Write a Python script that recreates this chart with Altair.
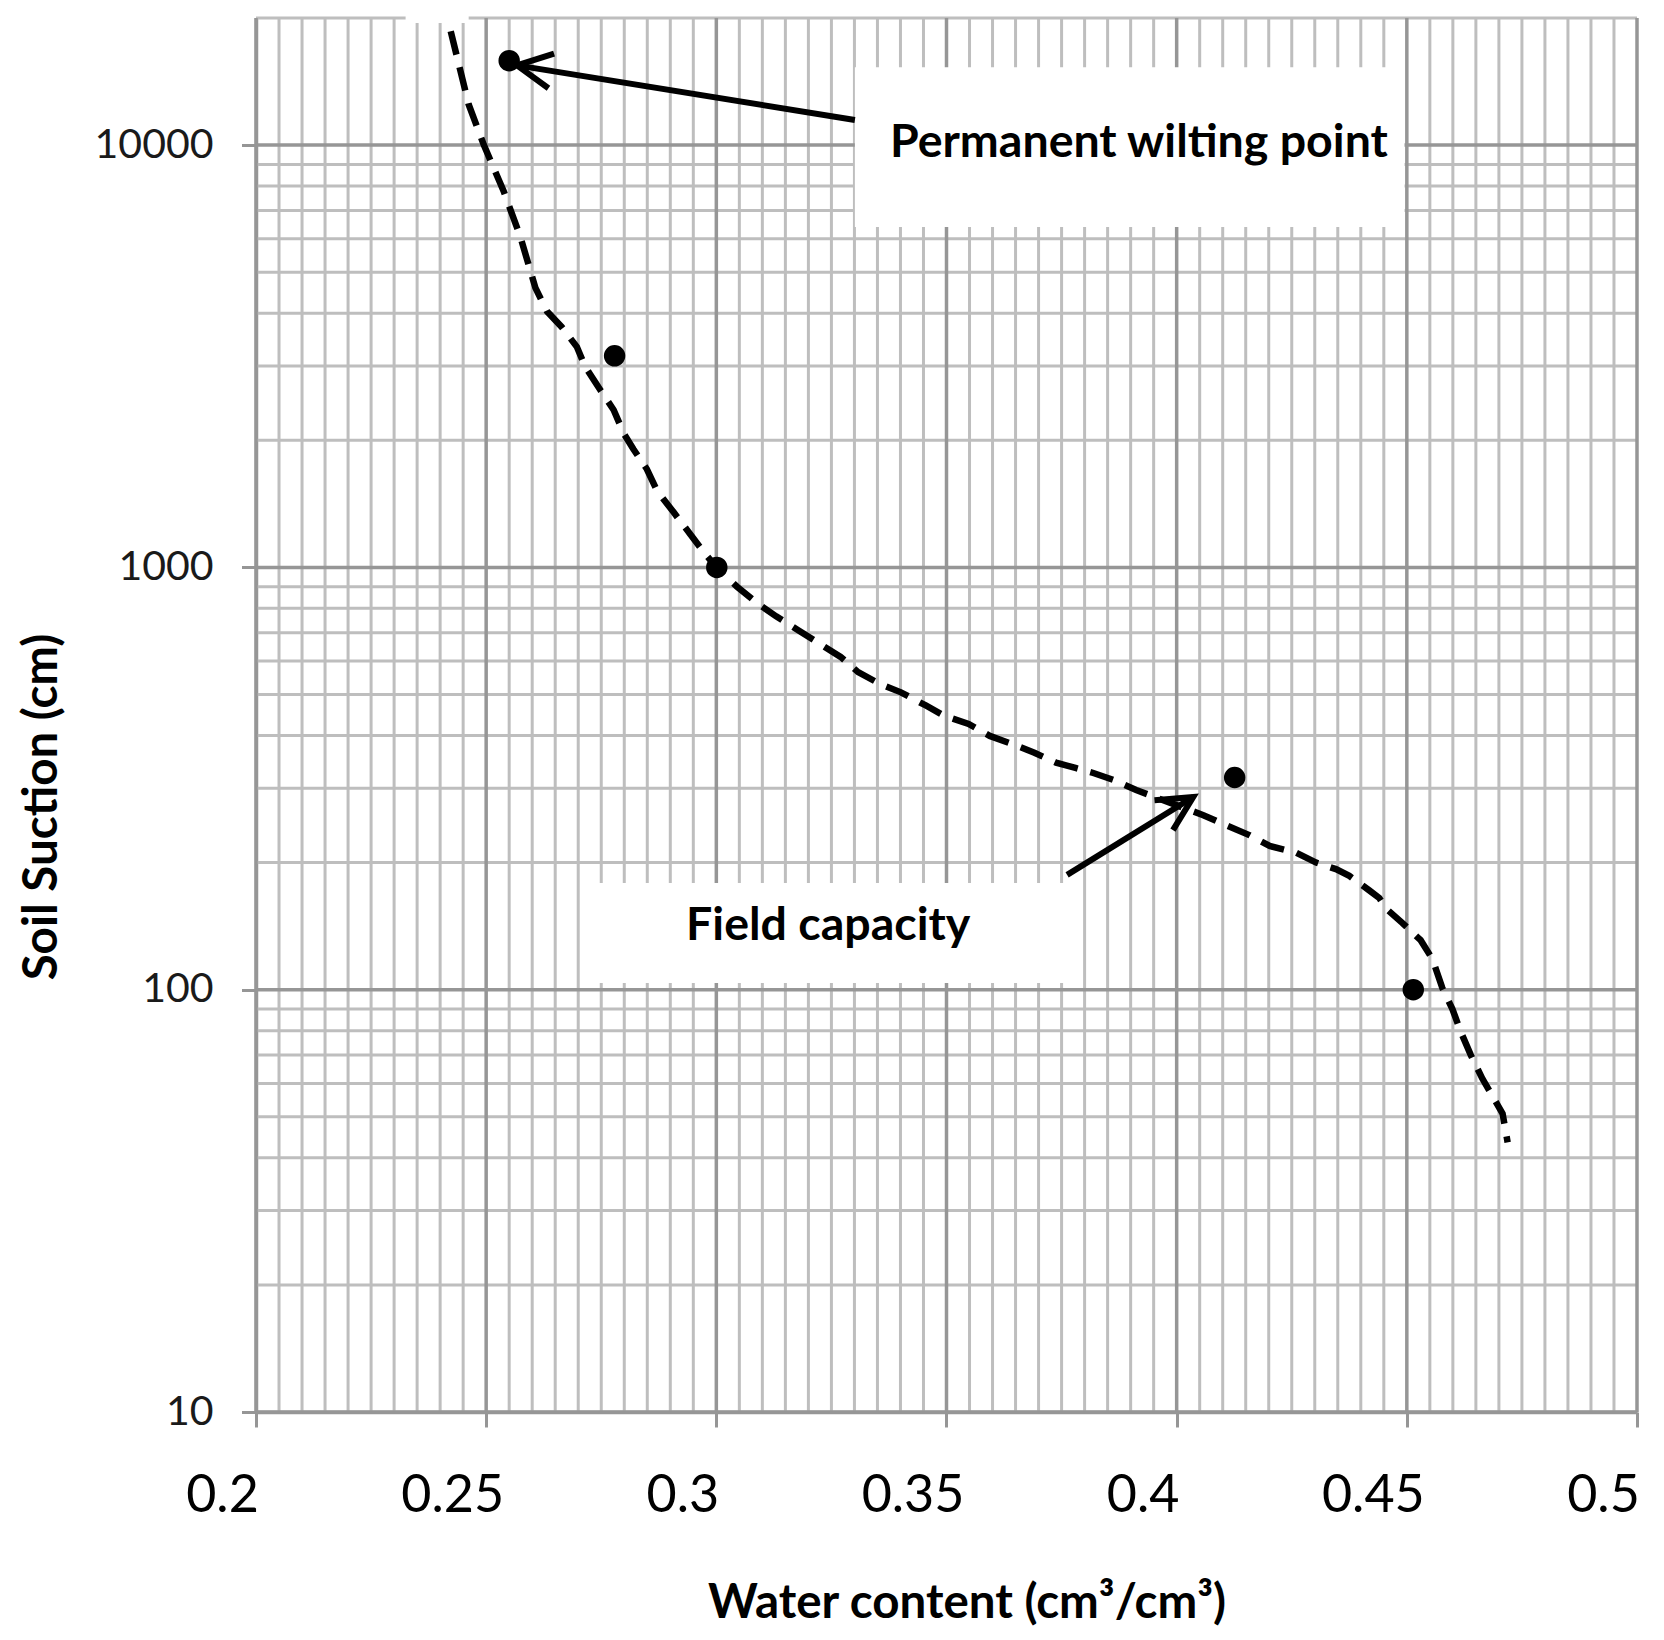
import math
import altair as alt
import pandas as pd

# ---------------- data ----------------
# measured points (water content, soil suction)
theta_pts = [0.2550, 0.2779, 0.3001, 0.4126, 0.4514]
suction_pts = [15850, 3170, 1000, 318, 100]

# fitted (dashed) retention curve, traced
curve_theta = [0.2423, 0.2462, 0.2495, 0.2538, 0.2574, 0.2607, 0.2632, 0.2664, 0.2697,
               0.2715, 0.2748, 0.2777, 0.2799, 0.2820, 0.2849, 0.2871, 0.2907, 0.2943,
               0.2972, 0.3000, 0.3045, 0.3088, 0.3130, 0.3177, 0.3223, 0.3270, 0.3308,
               0.3355, 0.3401, 0.3455, 0.3494, 0.3548, 0.3594, 0.3645, 0.3691, 0.3738,
               0.3780, 0.3819, 0.3862, 0.3912, 0.4058, 0.4108, 0.4159, 0.4202, 0.4260,
               0.4303, 0.4346, 0.4375, 0.4418, 0.4440, 0.4454, 0.4490, 0.4530, 0.4556,
               0.4577, 0.4599, 0.4617, 0.4639, 0.4664, 0.4686, 0.4708, 0.4719]
curve_suction = [18600, 12480, 10000, 7780, 6080, 4590, 4040, 3710, 3330,
                 2990, 2630, 2360, 2075, 1905, 1710, 1520, 1352, 1200,
                 1090, 1000, 900, 824, 766, 711, 661, 614, 565,
                 530, 506, 471, 446, 426, 399, 381, 364, 345,
                 335, 326, 314, 297, 259, 245, 232, 219, 211,
                 200, 193, 186, 172, 165, 156, 144, 131, 118,
                 101, 90, 79.6, 70, 61.6, 56, 50.9, 43.5]

# axis ticks / grid
x_major = [0.2, 0.25, 0.3, 0.35, 0.4, 0.45, 0.5]
y_major = [10, 100, 1000, 10000]
x_minor = [round(0.2 + 0.005 * i, 3) for i in range(61) if i % 10 != 0]
y_minor = [k * 10 ** d for d in range(1, 5) for k in range(2, 10) if k * 10 ** d <= 20000]

# annotations
ann_text = ["Permanent wilting point", "Field capacity"]
ann_tx = [0.3918, 0.3243]
ann_ty = [9374, 131]
box_x1 = [0.3301, 0.2705, 0.2325]
box_x2 = [0.4495, 0.3765, 0.2462]
box_y1 = [6400, 103.7, 19470]
box_y2 = [15300, 178.9, 21000]
arrow_tail_x = [0.3301, 0.3762]
arrow_tail_y = [11470, 187]
arrow_tip_x = [0.2567, 0.4036]
arrow_tip_y = [15450, 286]

# ---------------- layout ----------------
W, H = 1381, 1394
XD = [0.2, 0.5]
YD = [10, 20000]
FONT = "Lato"
MINOR = "#bebebe"
MAJOR = "#969696"


def px(x):
    return (x - XD[0]) / (XD[1] - XD[0]) * W


def py(y):
    return (math.log10(YD[1]) - math.log10(y)) / (math.log10(YD[1]) - math.log10(YD[0])) * H


angles = [math.degrees(math.atan2(py(ty) - py(sy), px(tx) - px(sx))) % 360
          for sx, sy, tx, ty in zip(arrow_tail_x, arrow_tail_y, arrow_tip_x, arrow_tip_y)]

xs = alt.Scale(domain=XD, nice=False, zero=False)
ys = alt.Scale(type="log", domain=YD, nice=False)

xaxis = alt.Axis(values=x_major, format=".2~f", grid=False,
                 domainColor=MAJOR, domainWidth=3.5, tickColor=MAJOR, tickWidth=3, tickSize=15,
                 labelFont=FONT, labelFontSize=52, labelColor="black", labelPadding=43,
                 labelOffset=-34, labelAlign="center", labelFlush=False, labelOverlap=False,
                 title="Water content (cm³/cm³)", titleFont=FONT, titleFontSize=47.5,
                 titleFontWeight="bold", titleColor="black", titleX=710.5, titleY=205,
                 titleBaseline="alphabetic", titleAlign="center")
yaxis = alt.Axis(values=y_major, format="d", grid=False,
                 domainColor=MAJOR, domainWidth=3.5, tickColor=MAJOR, tickWidth=3, tickSize=14.5,
                 labelFont=FONT, labelFontSize=41, labelColor="#1a1a1a", labelPadding=28.5,
                 labelOverlap=False, labelFlush=False,
                 title="Soil Suction (cm)", titleFont=FONT, titleFontSize=47.5,
                 titleFontWeight="bold", titleColor="black", titleAngle=270,
                 titleX=-200, titleY=788.5, titleBaseline="alphabetic", titleAlign="center")


def X(f):
    return alt.X(f, type="quantitative", scale=xs, axis=xaxis)


def Y(f):
    return alt.Y(f, type="quantitative", scale=ys, axis=yaxis)


xminor_df = pd.DataFrame({"x": x_minor})
yminor_df = pd.DataFrame({"y": y_minor})
xmajor_df = pd.DataFrame({"x": x_major})
ymajor_df = pd.DataFrame({"y": y_major})
curve_df = pd.DataFrame({"x": curve_theta, "y": curve_suction, "i": range(len(curve_theta))})
pts_df = pd.DataFrame({"x": theta_pts, "y": suction_pts})
box_df = pd.DataFrame({"x": box_x1, "x2": box_x2, "y": box_y1, "y2": box_y2})
arrow_df = pd.DataFrame({"x": arrow_tail_x, "y": arrow_tail_y,
                         "x2": arrow_tip_x, "y2": arrow_tip_y, "ang": angles})
text_df = pd.DataFrame({"x": ann_tx, "y": ann_ty, "t": ann_text})

g1 = alt.Chart(xminor_df).mark_rule(color=MINOR, strokeWidth=3).encode(x=X("x"))
g2 = alt.Chart(yminor_df).mark_rule(color=MINOR, strokeWidth=3).encode(y=Y("y"))
g3 = alt.Chart(xmajor_df).mark_rule(color=MAJOR, strokeWidth=3.5).encode(x=X("x"))
g4 = alt.Chart(ymajor_df).mark_rule(color=MAJOR, strokeWidth=3.5).encode(y=Y("y"))

boxes = alt.Chart(box_df).mark_rect(color="white", opacity=1).encode(
    x=X("x"), x2="x2", y=Y("y"), y2="y2")

curve = alt.Chart(curve_df).mark_line(color="black", strokeWidth=6.5, strokeDash=[24, 13]).encode(
    x=X("x"), y=Y("y"), order="i:Q")

dots = alt.Chart(pts_df).mark_circle(size=460, color="black", opacity=1).encode(
    x=X("x"), y=Y("y"))

shafts = alt.Chart(arrow_df).mark_rule(color="black", strokeWidth=6).encode(
    x=X("x"), y=Y("y"), x2="x2", y2="y2")

heads = alt.Chart(arrow_df).mark_point(
    shape="M -0.89 -0.45 L 0 0 L -0.89 0.45", size=6084, filled=False,
    strokeWidth=6, color="black", opacity=1).encode(
    x=X("x2"), y=Y("y2"), angle=alt.Angle("ang:Q", scale=None))

texts = alt.Chart(text_df).mark_text(font=FONT, fontWeight="bold", fontSize=46.5, color="black",
                                     align="center", baseline="alphabetic").encode(
    x=X("x"), y=Y("y"), text="t:N")

chart = alt.layer(g1, g2, g3, g4, boxes, curve, dots, shafts, heads, texts).properties(
    width=W, height=H,
    autosize=alt.AutoSizeParams(type="none"),
    padding={"left": 248, "top": 10, "right": 15, "bottom": 215},
).configure_view(stroke=None).configure(background="white")

chart.save("out.html", embed_options={"renderer": "svg", "actions": False})
